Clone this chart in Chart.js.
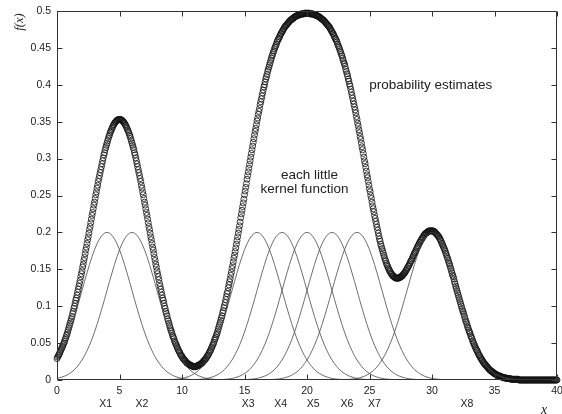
<!DOCTYPE html>
<html>
<head>
<meta charset="utf-8">
<script src="https://cdn.jsdelivr.net/npm/chart.js@4/dist/chart.umd.min.js"></script>
<style>
    html, body { margin: 0; padding: 0; background: #fff; }
    #wrap { width: 562px; height: 414px; }
</style>
</head>
<body>
<div id="wrap"><canvas id="chart" width="562" height="414"></canvas></div>
<script>
// estimated density f(x), one value every 0.05 from x = 0 to x = 40
const xStart = 0
const xStep = 0.05
const estimate = [
    0.029, 0.031, 0.033, 0.034, 0.036, 0.038, 0.040, 0.042, 0.044, 0.046, 0.048, 0.050, 0.052, 0.055, 0.057, 0.060, 0.062, 0.065, 0.068, 0.071, // 0
    0.074, 0.077, 0.080, 0.083, 0.086, 0.090, 0.093, 0.097, 0.100, 0.104, 0.108, 0.111, 0.115, 0.119, 0.123, 0.127, 0.131, 0.135, 0.140, 0.144, // 1
    0.148, 0.153, 0.157, 0.162, 0.166, 0.171, 0.176, 0.180, 0.185, 0.190, 0.194, 0.199, 0.204, 0.208, 0.213, 0.218, 0.223, 0.227, 0.232, 0.237, // 2
    0.241, 0.246, 0.251, 0.255, 0.260, 0.264, 0.269, 0.273, 0.277, 0.281, 0.285, 0.289, 0.293, 0.297, 0.301, 0.305, 0.308, 0.312, 0.315, 0.318, // 3
    0.321, 0.324, 0.327, 0.330, 0.332, 0.335, 0.337, 0.339, 0.341, 0.343, 0.345, 0.346, 0.348, 0.349, 0.350, 0.351, 0.352, 0.352, 0.353, 0.353, // 4
    0.353, 0.353, 0.353, 0.352, 0.352, 0.351, 0.350, 0.349, 0.348, 0.346, 0.345, 0.343, 0.341, 0.339, 0.337, 0.335, 0.332, 0.330, 0.327, 0.324, // 5
    0.321, 0.318, 0.315, 0.312, 0.308, 0.305, 0.301, 0.297, 0.293, 0.289, 0.285, 0.281, 0.277, 0.273, 0.269, 0.264, 0.260, 0.255, 0.251, 0.246, // 6
    0.241, 0.237, 0.232, 0.227, 0.223, 0.218, 0.213, 0.208, 0.204, 0.199, 0.194, 0.190, 0.185, 0.180, 0.176, 0.171, 0.166, 0.162, 0.157, 0.153, // 7
    0.148, 0.144, 0.140, 0.136, 0.131, 0.127, 0.123, 0.119, 0.115, 0.111, 0.108, 0.104, 0.100, 0.097, 0.093, 0.090, 0.087, 0.083, 0.080, 0.077, // 8
    0.074, 0.071, 0.068, 0.066, 0.063, 0.060, 0.058, 0.056, 0.053, 0.051, 0.049, 0.047, 0.045, 0.043, 0.041, 0.039, 0.038, 0.036, 0.034, 0.033, // 9
    0.032, 0.030, 0.029, 0.028, 0.027, 0.026, 0.025, 0.024, 0.023, 0.022, 0.022, 0.021, 0.021, 0.020, 0.020, 0.019, 0.019, 0.019, 0.018, 0.018, // 10
    0.018, 0.018, 0.018, 0.019, 0.019, 0.019, 0.020, 0.020, 0.021, 0.021, 0.022, 0.022, 0.023, 0.024, 0.025, 0.026, 0.027, 0.028, 0.029, 0.030, // 11
    0.032, 0.033, 0.034, 0.036, 0.038, 0.039, 0.041, 0.043, 0.045, 0.047, 0.049, 0.051, 0.054, 0.056, 0.058, 0.061, 0.063, 0.066, 0.069, 0.072, // 12
    0.075, 0.078, 0.081, 0.084, 0.087, 0.091, 0.094, 0.098, 0.101, 0.105, 0.109, 0.113, 0.117, 0.120, 0.125, 0.129, 0.133, 0.137, 0.142, 0.146, // 13
    0.151, 0.155, 0.160, 0.165, 0.169, 0.174, 0.179, 0.184, 0.189, 0.194, 0.199, 0.204, 0.209, 0.214, 0.220, 0.225, 0.230, 0.235, 0.240, 0.245, // 14
    0.251, 0.256, 0.261, 0.266, 0.272, 0.277, 0.282, 0.287, 0.292, 0.297, 0.302, 0.307, 0.312, 0.317, 0.322, 0.327, 0.332, 0.337, 0.341, 0.346, // 15
    0.351, 0.355, 0.360, 0.364, 0.368, 0.373, 0.377, 0.381, 0.385, 0.389, 0.393, 0.397, 0.400, 0.404, 0.408, 0.411, 0.414, 0.418, 0.421, 0.424, // 16
    0.427, 0.430, 0.433, 0.436, 0.439, 0.441, 0.444, 0.446, 0.449, 0.451, 0.453, 0.455, 0.458, 0.460, 0.462, 0.463, 0.465, 0.467, 0.469, 0.470, // 17
    0.472, 0.473, 0.475, 0.476, 0.478, 0.479, 0.480, 0.481, 0.482, 0.483, 0.484, 0.485, 0.486, 0.487, 0.488, 0.488, 0.489, 0.490, 0.490, 0.491, // 18
    0.492, 0.492, 0.493, 0.493, 0.494, 0.494, 0.494, 0.495, 0.495, 0.495, 0.496, 0.496, 0.496, 0.496, 0.496, 0.496, 0.497, 0.497, 0.497, 0.497, // 19
    0.497, 0.497, 0.497, 0.497, 0.497, 0.496, 0.496, 0.496, 0.496, 0.496, 0.496, 0.495, 0.495, 0.495, 0.494, 0.494, 0.494, 0.493, 0.493, 0.492, // 20
    0.492, 0.491, 0.490, 0.490, 0.489, 0.488, 0.488, 0.487, 0.486, 0.485, 0.484, 0.483, 0.482, 0.481, 0.480, 0.479, 0.478, 0.476, 0.475, 0.473, // 21
    0.472, 0.470, 0.469, 0.467, 0.465, 0.463, 0.462, 0.460, 0.458, 0.455, 0.453, 0.451, 0.449, 0.446, 0.444, 0.441, 0.439, 0.436, 0.433, 0.430, // 22
    0.428, 0.425, 0.421, 0.418, 0.415, 0.412, 0.408, 0.405, 0.401, 0.398, 0.394, 0.390, 0.386, 0.382, 0.378, 0.374, 0.370, 0.366, 0.362, 0.357, // 23
    0.353, 0.348, 0.344, 0.339, 0.335, 0.330, 0.326, 0.321, 0.316, 0.312, 0.307, 0.302, 0.297, 0.293, 0.288, 0.283, 0.278, 0.274, 0.269, 0.264, // 24
    0.259, 0.255, 0.250, 0.246, 0.241, 0.236, 0.232, 0.228, 0.223, 0.219, 0.215, 0.211, 0.207, 0.203, 0.199, 0.195, 0.191, 0.188, 0.184, 0.181, // 25
    0.178, 0.175, 0.172, 0.169, 0.166, 0.163, 0.161, 0.158, 0.156, 0.154, 0.152, 0.150, 0.148, 0.147, 0.145, 0.144, 0.143, 0.141, 0.141, 0.140, // 26
    0.139, 0.139, 0.138, 0.138, 0.138, 0.138, 0.138, 0.138, 0.139, 0.139, 0.140, 0.140, 0.141, 0.142, 0.143, 0.144, 0.145, 0.146, 0.148, 0.149, // 27
    0.151, 0.152, 0.154, 0.155, 0.157, 0.159, 0.161, 0.162, 0.164, 0.166, 0.168, 0.170, 0.172, 0.173, 0.175, 0.177, 0.179, 0.181, 0.182, 0.184, // 28
    0.186, 0.187, 0.189, 0.190, 0.192, 0.193, 0.194, 0.196, 0.197, 0.198, 0.199, 0.199, 0.200, 0.201, 0.201, 0.202, 0.202, 0.202, 0.202, 0.202, // 29
    0.202, 0.202, 0.202, 0.201, 0.201, 0.200, 0.199, 0.198, 0.197, 0.196, 0.195, 0.194, 0.192, 0.191, 0.189, 0.187, 0.185, 0.183, 0.181, 0.179, // 30
    0.177, 0.175, 0.172, 0.170, 0.167, 0.165, 0.162, 0.159, 0.157, 0.154, 0.151, 0.148, 0.145, 0.142, 0.140, 0.137, 0.133, 0.130, 0.127, 0.124, // 31
    0.121, 0.118, 0.115, 0.112, 0.109, 0.106, 0.103, 0.100, 0.097, 0.094, 0.092, 0.089, 0.086, 0.083, 0.080, 0.078, 0.075, 0.072, 0.070, 0.067, // 32
    0.065, 0.063, 0.060, 0.058, 0.056, 0.053, 0.051, 0.049, 0.047, 0.045, 0.043, 0.041, 0.040, 0.038, 0.036, 0.034, 0.033, 0.031, 0.030, 0.028, // 33
    0.027, 0.026, 0.024, 0.023, 0.022, 0.021, 0.020, 0.019, 0.018, 0.017, 0.016, 0.015, 0.014, 0.013, 0.013, 0.012, 0.011, 0.011, 0.010, 0.009, // 34
    0.009, 0.008, 0.008, 0.007, 0.007, 0.006, 0.006, 0.006, 0.005, 0.005, 0.005, 0.004, 0.004, 0.004, 0.003, 0.003, 0.003, 0.003, 0.003, 0.002, // 35
    0.002, 0.002, 0.002, 0.002, 0.002, 0.002, 0.001, 0.001, 0.001, 0.001, 0.001, 0.001, 0.001, 0.001, 0.001, 0.001, 0.001, 0.001, 0.001, 0, // 36
    0, 0, 0, 0, 0, 0, 0, 0, 0, 0, 0, 0, 0, 0, 0, 0, 0, 0, 0, 0, // 37
    0, 0, 0, 0, 0, 0, 0, 0, 0, 0, 0, 0, 0, 0, 0, 0, 0, 0, 0, 0, // 38
    0, 0, 0, 0, 0, 0, 0, 0, 0, 0, 0, 0, 0, 0, 0, 0, 0, 0, 0, 0, // 39
    0 // 40
]

// the little kernels: centres and one shared profile (height at distance 0, 0.2, 0.4 ... 7 from the centre)
const kernelCenters = [4, 6, 16, 18, 20, 22, 24, 30]
const kernelNames = ['X1', 'X2', 'X3', 'X4', 'X5', 'X6', 'X7', 'X8']
const kernelLabelX = [3.9, 6.8, 15.3, 17.9, 20.5, 23.2, 25.4, 32.8]
const profileStep = 0.2
const kernelProfile = [
    0.2, 0.199, 0.196, 0.1912, 0.1846, 0.1765, 0.1671, 0.1565, 0.1452, 0.1334,
    0.1213, 0.1092, 0.0974, 0.0859, 0.0751, 0.0649, 0.0556, 0.0472, 0.0396, 0.0329,
    0.0271, 0.0221, 0.0178, 0.0142, 0.0112, 0.0088, 0.0068, 0.0052, 0.004, 0.003,
    0.0022, 0.0016, 0.0012, 0.0009, 0.0006, 0.0004
]

const xTicks = [0, 5, 10, 15, 20, 25, 30, 35, 40]
const yTicks = [0, 0.05, 0.1, 0.15, 0.2, 0.25, 0.3, 0.35, 0.4, 0.45, 0.5]

const notes = [
    { text: 'probability estimates', x: 29.9, y: 0.4 },
    { text: 'each little', x: 20.2, y: 0.277 },
    { text: 'kernel function', x: 19.8, y: 0.258 },
]

// build the point lists
const estimatePoints = estimate.map((v, i) => ({ x: xStart + i * xStep, y: v }))

const kernelSets = kernelCenters.map((c) => {
    const pts = []
    for (let i = kernelProfile.length - 1; i > 0; i--) {
        pts.push({ x: c - i * profileStep, y: kernelProfile[i] })
    }
    kernelProfile.forEach((v, i) => pts.push({ x: c + i * profileStep, y: v }))
    return {
        data: pts,
        showLine: true,
        borderColor: '#4a4a4a',
        borderWidth: 0.8,
        pointRadius: 0,
        tension: 0,
    }
})

// box with inward ticks and the extra text
const framePlugin = {
    id: 'frame',
    afterDraw(chart) {
        const { ctx, chartArea: a, scales } = chart
        const xs = scales.x
        const ys = scales.y
        const L = a.left + 0.5, R = a.right - 0.5, T = a.top + 0.5, B = a.bottom - 0.5
        ctx.save()
        ctx.strokeStyle = '#333'
        ctx.lineWidth = 1
        ctx.beginPath()
        ctx.rect(L, T, R - L, B - T)
        xTicks.forEach((v) => {
            const p = Math.round(xs.getPixelForValue(v)) + 0.5
            ctx.moveTo(p, B); ctx.lineTo(p, B - 5)
            ctx.moveTo(p, T); ctx.lineTo(p, T + 5)
        })
        yTicks.forEach((v) => {
            const p = Math.round(ys.getPixelForValue(v)) + 0.5
            ctx.moveTo(L, p); ctx.lineTo(L + 5, p)
            ctx.moveTo(R, p); ctx.lineTo(R - 5, p)
        })
        ctx.stroke()

        ctx.fillStyle = '#222'
        ctx.textAlign = 'center'
        ctx.textBaseline = 'middle'
        ctx.font = '10.5px "Liberation Sans", Arial, sans-serif'
        kernelNames.forEach((n, i) => {
            ctx.fillText(n, xs.getPixelForValue(kernelLabelX[i]), a.bottom + 24)
        })

        ctx.font = '13.5px "Liberation Sans", Arial, sans-serif'
        notes.forEach((n) => {
            ctx.fillText(n.text, xs.getPixelForValue(n.x), ys.getPixelForValue(n.y))
        })

        ctx.font = 'italic 14px "Liberation Serif", "DejaVu Serif", serif'
        ctx.fillText('x', a.right - 13, a.bottom + 30)

        ctx.save()
        ctx.translate(20, a.top + 11)
        ctx.rotate(-Math.PI / 2)
        ctx.font = 'italic 12.5px "Liberation Serif", "DejaVu Serif", serif'
        ctx.fillText('f(x)', 0, 0)
        ctx.restore()
        ctx.restore()
    },
}

const tickFont = { family: '"Liberation Sans", Arial, sans-serif', size: 10.5 }

new Chart(document.getElementById('chart').getContext('2d'), {
    type: 'scatter',
    data: {
        datasets: [
            ...kernelSets,
            {
                data: estimatePoints,
                showLine: false,
                pointStyle: 'circle',
                pointRadius: 3,
                pointBorderWidth: 0.8,
                pointBorderColor: '#111',
                pointBackgroundColor: 'rgba(0,0,0,0)',
                clip: false,
            },
        ],
    },
    options: {
        responsive: false,
        animation: false,
        events: [],
        layout: { padding: { top: 11, right: 5, left: 0, bottom: 0 } },
        plugins: { legend: { display: false }, tooltip: { enabled: false } },
        scales: {
            x: {
                type: 'linear',
                min: 0,
                max: 40,
                afterFit: (s) => { s.height = 34; s.paddingLeft = 0; s.paddingRight = 0 },
                afterBuildTicks: (s) => { s.ticks = xTicks.map((v) => ({ value: v })) },
                grid: { display: false, drawTicks: false },
                border: { display: false },
                ticks: { font: tickFont, color: '#222', padding: 5, maxRotation: 0 },
            },
            y: {
                min: 0,
                max: 0.5,
                afterFit: (s) => { s.width = 57; s.paddingTop = 0; s.paddingBottom = 0 },
                afterBuildTicks: (s) => { s.ticks = yTicks.map((v) => ({ value: v })) },
                grid: { display: false, drawTicks: false },
                border: { display: false },
                ticks: {
                    font: tickFont,
                    color: '#222',
                    padding: 6,
                    callback: (v) => String(parseFloat(v.toFixed(2))),
                },
            },
        },
    },
    plugins: [framePlugin],
})
</script>
</body>
</html>
